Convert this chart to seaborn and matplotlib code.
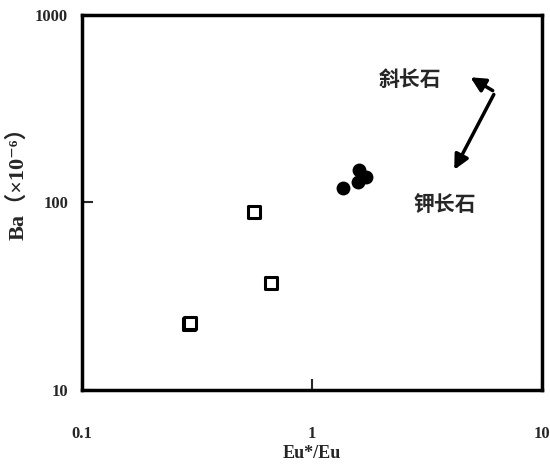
import matplotlib
matplotlib.use("Agg")
import matplotlib.pyplot as plt
import seaborn as sns
import pandas as pd

# Data
sq_x = [0.56, 0.665, 0.292, 0.295]
sq_y = [89, 37.2, 22.5, 22.8]
ci_x = [1.36, 1.60, 1.585, 1.72]
ci_y = [119, 149, 129, 137]
x_ticks = [0.1, 1, 10]
x_ticklabels = ["0.1", "1", "10"]
y_ticks = [10, 100, 1000]
y_ticklabels = ["10", "100", "1000"]

df = pd.DataFrame({
    "x": sq_x + ci_x,
    "y": sq_y + ci_y,
    "g": ["sq"] * len(sq_x) + ["ci"] * len(ci_x),
})

sns.set_style("ticks")
plt.rcParams["font.family"] = ["Liberation Serif", "DejaVu Serif", "Noto Sans CJK SC"]

fig = plt.figure(figsize=(5.5, 4.66), dpi=100)
ax = fig.add_axes([0.149, 0.163, 0.8365, 0.805])

sq = df[df.g == "sq"]
ci = df[df.g == "ci"]
sns.scatterplot(data=sq, x="x", y="y", marker="s", s=85, facecolor="white",
                edgecolor="black", linewidth=2.2, ax=ax, legend=False)
sns.scatterplot(data=ci, x="x", y="y", marker="o", s=100, color="black",
                edgecolor="black", linewidth=0, ax=ax, legend=False)

ax.set_xscale("log")
ax.set_yscale("log")
ax.set_xlim(0.1, 10)
ax.set_ylim(10, 1000)
ax.set_xticks(x_ticks)
ax.set_xticklabels(x_ticklabels)
ax.set_yticks(y_ticks)
ax.set_yticklabels(y_ticklabels)
ax.minorticks_off()
ax.tick_params(direction="in", length=8, width=1.5, labelsize=12)
ax.tick_params(axis="x", pad=26)
ax.tick_params(axis="y", pad=10)
for lab in ax.get_xticklabels() + ax.get_yticklabels():
    lab.set_fontweight("bold")
for sp in ax.spines.values():
    sp.set_linewidth(2.5)
    sp.set_color("black")

ax.set_xlabel("Eu*/Eu", fontsize=13, fontweight="bold")
ax.xaxis.set_label_coords(0.5, -0.168)
ax.xaxis.label.set_va("center")
ax.set_ylabel("Ba（×10⁻⁶）", fontsize=16, fontweight="bold")
ax.yaxis.set_label_coords(-0.139, 0.565)
ax.yaxis.label.set_va("center")

# annotations
ax.text(2.67, 450, "斜长石", fontsize=15, fontweight="bold",
        family=["Noto Sans CJK SC"], ha="center", va="center")
ax.text(3.79, 97, "钾长石", fontsize=15, fontweight="bold",
        family=["Noto Sans CJK SC"], ha="center", va="center")
ax.annotate("", xy=(4.77, 473), xytext=(6.25, 388),
            arrowprops=dict(arrowstyle="-|>", lw=2.5, color="black", mutation_scale=22))
ax.annotate("", xy=(4.10, 145), xytext=(6.25, 388),
            arrowprops=dict(arrowstyle="-|>", lw=2.5, color="black", mutation_scale=22))

fig.savefig("out.png", dpi=100)
